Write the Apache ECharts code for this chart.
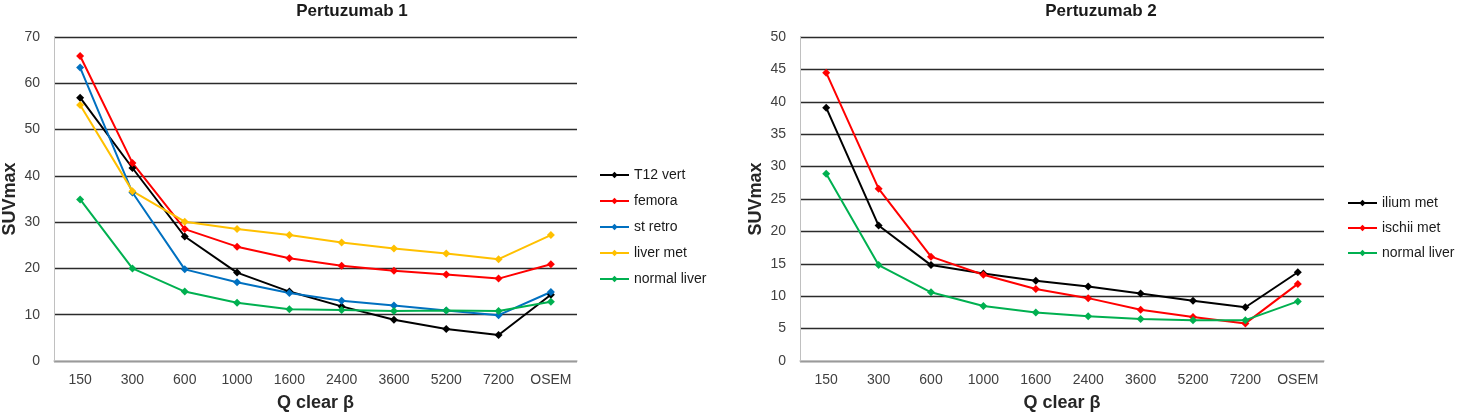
<!DOCTYPE html>
<html>
<head>
<meta charset="utf-8">
<script src="https://cdn.jsdelivr.net/npm/echarts@6/dist/echarts.min.js"></script>
<style>html,body{margin:0;padding:0;background:#fff}#c{width:1459px;height:417px}</style>
</head>
<body>
<div id="c"></div>
<script>
var categories = ['150','300','600','1000','1600','2400','3600','5200','7200','OSEM'];

var t12vert     = [56.9, 41.7, 26.9, 19.1, 15.0, 11.8, 8.9, 6.9, 5.6, 14.3];
var femora      = [65.9, 42.8, 28.5, 24.7, 22.2, 20.6, 19.5, 18.7, 17.8, 20.9];
var stRetro     = [63.4, 36.4, 19.8, 17.0, 14.7, 13.0, 12.0, 10.9, 9.9, 14.9];
var liverMet    = [55.3, 36.7, 30.1, 28.5, 27.2, 25.6, 24.3, 23.2, 22.0, 27.2];
var normalLiver1= [34.9, 20.0, 15.0, 12.6, 11.2, 11.0, 10.8, 10.9, 10.8, 12.8];

var iliumMet    = [39.1, 20.9, 14.8, 13.5, 12.4, 11.5, 10.4, 9.3, 8.3, 13.7];
var ischiiMet   = [44.5, 26.6, 16.1, 13.3, 11.1, 9.7, 7.9, 6.8, 5.8, 11.9];
var normalLiver2= [28.9, 14.8, 10.6, 8.5, 7.5, 6.9, 6.5, 6.3, 6.3, 9.2];

var titles = ['Pertuzumab 1', 'Pertuzumab 2'];
var xName = 'Q clear \u03b2';
var yName = 'SUVmax';

var FONT = '"Liberation Sans", Arial, sans-serif';
var chart = echarts.init(document.getElementById('c'), null, {renderer: 'canvas'});

function mkSeries(name, data, color, idx) {
  return {
    name: name, type: 'line', data: data,
    xAxisIndex: idx, yAxisIndex: idx,
    symbol: 'diamond', symbolSize: 8,
    lineStyle: {color: color, width: 2},
    itemStyle: {color: color},
    emphasis: {disabled: true},
    animation: false
  };
}
function mkX(idx) {
  return {
    type: 'category', gridIndex: idx, data: categories, boundaryGap: true,
    axisLine: {show: true, lineStyle: {color: '#c0c0c0', width: 1.5}},
    axisTick: {show: false},
    axisLabel: {color: '#404040', fontSize: 14, fontFamily: FONT, margin: 12, interval: 0},
    name: xName, nameLocation: 'middle', nameGap: 33,
    nameTextStyle: {color: '#262626', fontSize: 18, fontWeight: 'bold', fontFamily: FONT}
  };
}
function mkY(idx, max, interval) {
  return {
    type: 'value', gridIndex: idx, min: 0, max: max, interval: interval,
    axisLine: {show: true, lineStyle: {color: '#c0c0c0', width: 1}},
    axisTick: {show: false},
    splitLine: {show: true, lineStyle: {color: '#2b2b2b', width: 1.3}},
    axisLabel: {color: '#404040', fontSize: 14, fontFamily: FONT, margin: 14},
    name: yName, nameLocation: 'middle', nameGap: 35, nameRotate: 90,
    nameTextStyle: {color: '#262626', fontSize: 18, fontWeight: 'bold', fontFamily: FONT}
  };
}

var legendText = {color: '#1a1a1a', fontSize: 14, fontFamily: FONT};

chart.setOption({
  backgroundColor: '#ffffff',
  animation: false,
  title: [
    {text: titles[0], left: 352, top: 3, padding: 0, textAlign: 'center',
     textStyle: {fontSize: 17, fontWeight: 'bold', color: '#1a1a1a', fontFamily: FONT}},
    {text: titles[1], left: 1101, top: 3, padding: 0, textAlign: 'center',
     textStyle: {fontSize: 17, fontWeight: 'bold', color: '#1a1a1a', fontFamily: FONT}}
  ],
  legend: [
    {orient: 'vertical', left: 599, top: 168, padding: 0, itemWidth: 29, itemHeight: 8, itemGap: 12,
     textStyle: legendText, data: ['T12 vert','femora','st retro','liver met','normal liver']},
    {orient: 'vertical', left: 1347, top: 196, padding: 0, itemWidth: 29, itemHeight: 8, itemGap: 11,
     textStyle: legendText, data: ['ilium met','ischii met','normal liver ']}
  ],
  grid: [
    {left: 53, right: 882, top: 37, bottom: 53},
    {left: 800, right: 135, top: 37, bottom: 53}
  ],
  xAxis: [mkX(0), mkX(1)],
  yAxis: [mkY(0, 70, 10), mkY(1, 50, 5)],
  series: [
    mkSeries('T12 vert', t12vert, '#000000', 0),
    mkSeries('femora', femora, '#ff0000', 0),
    mkSeries('st retro', stRetro, '#0070c0', 0),
    mkSeries('liver met', liverMet, '#ffc000', 0),
    mkSeries('normal liver', normalLiver1, '#00b050', 0),
    mkSeries('ilium met', iliumMet, '#000000', 1),
    mkSeries('ischii met', ischiiMet, '#ff0000', 1),
    mkSeries('normal liver ', normalLiver2, '#00b050', 1)
  ]
});
</script>
</body>
</html>
